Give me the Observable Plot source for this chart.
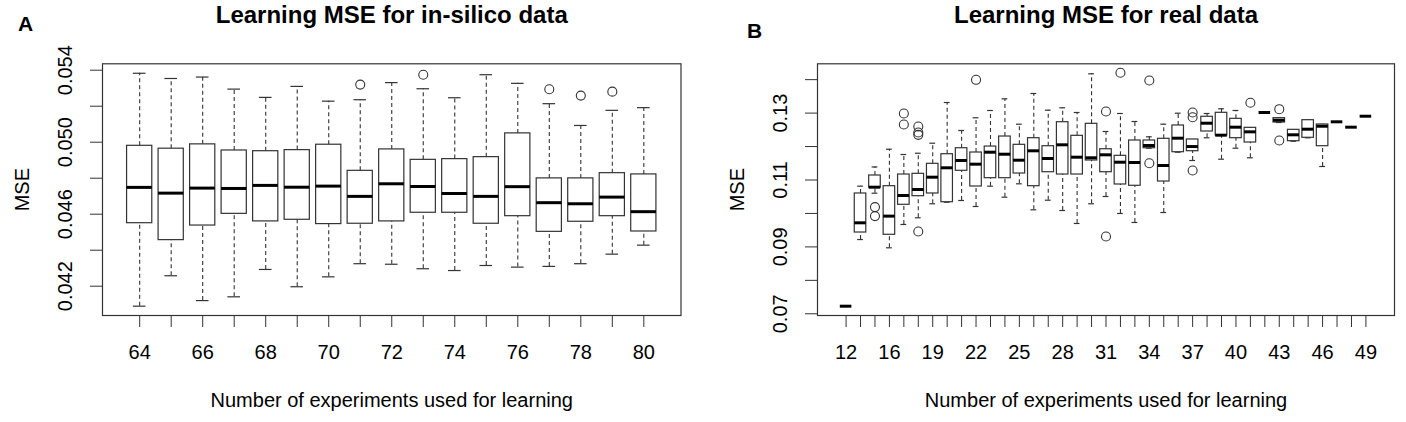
<!DOCTYPE html>
<html><head><meta charset="utf-8">
<script src="https://cdn.jsdelivr.net/npm/d3@7"></script>
<script src="https://cdn.jsdelivr.net/npm/@observablehq/plot@0.6"></script>
<style>
body{margin:0;background:#fff;}
#wrap{position:relative;width:1406px;height:422px;overflow:hidden;background:#fff;}
#a,#b{position:absolute;top:0;}
#a{left:0}
#b{left:703px}
</style></head><body><div id="wrap"><div id="a"></div><div id="b"></div></div>
<script>
// ---------- Panel A: in-silico data ----------
const catsA = [64,65,66,67,68,69,70,71,72,73,74,75,76,77,78,79,80];
const loA  = [.04089,.04258,.04120,.04141,.04293,.04197,.04252,.04325,.04322,.04297,.04287,.04315,.04306,.04310,.04325,.04378,.04428];
const q1A  = [.04550,.04456,.04537,.04602,.04560,.04569,.04545,.04547,.04560,.04608,.04608,.04547,.04589,.04502,.04558,.04589,.04504];
const medA = [.04749,.04717,.04745,.04743,.04760,.04750,.04756,.04699,.04769,.04754,.04715,.04699,.04753,.04664,.04658,.04695,.04614];
const q3A  = [.04980,.04964,.04988,.04954,.04950,.04956,.04986,.04841,.04960,.04902,.04906,.04917,.05049,.04799,.04799,.04828,.04821];
const hiA  = [.05383,.05354,.05362,.05295,.05249,.05310,.05228,.05236,.05331,.05297,.05247,.05375,.05327,.05214,.05093,.05177,.05192];
const outCatA = [71,73,77,78,79];
const outValA = [.05320,.05375,.05294,.05259,.05281];
const yTicksA = [.042,.044,.046,.048,.050,.052,.054];
const yLabelsA = [.042,.046,.050,.054];

// ---------- Panel B: real data ----------
const catsB = [12,14,15,16,17,18,19,20,21,22,23,24,25,26,27,28,29,30,31,32,33,34,35,36,37,38,39,40,41,42,43,44,45,46,47,48,49];
const loB  = [.07227,.0922,.10605,.08973,.0967,.0987,.10289,.10336,.10387,.10208,.10815,.10486,.10886,.10109,.10396,.10088,.0970,.10289,.10507,.09999,.0973,.1195,.10028,.11831,.11583,.12262,.11622,.1195,.11664,.13018,.12719,.1216,.12262,.11404,.1274,.12579,.12907];
const q1B  = [.07227,.0943,.1077,.09362,.10259,.10516,.10597,.10336,.11275,.10806,.11054,.11054,.11194,.10815,.11233,.11164,.11164,.11583,.11233,.10866,.10827,.1195,.10955,.11831,.11861,.1245,.1233,.1225,.12121,.13018,.12719,.1216,.12262,.1201,.1274,.12579,.12907];
const medB = [.07227,.0972,.10785,.0992,.10537,.10716,.11084,.11365,.11583,.11473,.11831,.11771,.11592,.11873,.11643,.12052,.11682,.11664,.11753,.11532,.11523,.12031,.11433,.1225,.1200,.12698,.1234,.12579,.1244,.13018,.12788,.12351,.12519,.12608,.1274,.12579,.12907];
const q3B  = [.07227,.10597,.11135,.10815,.11164,.11185,.11484,.11771,.1195,.11822,.1200,.1230,.12052,.1225,.1201,.12728,.12321,.1268,.1192,.11723,.12181,.12181,.12232,.1263,.12211,.1289,.13009,.12829,.1256,.13018,.12848,.1250,.12788,.1266,.1274,.12579,.12907];
const hiB  = [.07227,.10815,.1139,.1192,.11762,.1180,.1210,.13317,.1248,.1286,.13078,.13427,.12668,.13586,.13087,.13158,.13018,.14175,.1245,.12988,.12749,.12291,.12668,.12997,.12211,.12988,.13129,.13078,.1256,.13018,.12848,.1250,.12788,.1266,.1274,.12579,.12907];
const outCatB = [15,15,17,17,18,18,18,18,22,31,31,32,34,34,37,37,37,41,43,43];
const outValB = [.1019,.0992,.12988,.1266,.1260,.1242,.1235,.0946,.13995,.13048,.09311,.14205,.13975,.11502,.13018,.12877,.11284,.13308,.13117,.12181];
const yTicksB = [.07,.08,.09,.10,.11,.12,.13,.14];
const yLabelsB = [.07,.09,.11,.13];

const FONT = "'Liberation Sans', Arial, Helvetica, sans-serif";
const INK = "#333";

function panel(o) {
  const n = o.cats.length;
  const rows = o.cats.map((c, k) => ({i: k + 1, c, lo: o.lo[k], q1: o.q1[k], med: o.med[k], q3: o.q3[k], hi: o.hi[k]}));
  const outs = o.outCat.map((c, k) => ({i: o.cats.indexOf(c) + 1, v: o.outVal[k]}));
  const hw = 0.4, cw = 0.2;
  return Plot.plot({
    width: 703, height: 422,
    marginLeft: o.marginLeft, marginRight: o.marginRight, marginTop: 63.3, marginBottom: 107,
    x: {type: "linear", domain: [0.5 - 0.04 * n, n + 0.5 + 0.04 * n]},
    y: {type: "linear", domain: o.yDomain},
    style: {fontFamily: FONT, fontSize: "20px", color: "#000", background: "white", overflow: "visible"},
    marks: [
      Plot.frame({stroke: INK, strokeWidth: 1.2}),
      Plot.ruleX(rows, {x: "i", y1: "q3", y2: "hi", stroke: INK, strokeWidth: 1.1, strokeDasharray: "4,3"}),
      Plot.ruleX(rows, {x: "i", y1: "lo", y2: "q1", stroke: INK, strokeWidth: 1.1, strokeDasharray: "4,3"}),
      Plot.ruleY(rows, {y: "hi", x1: d => d.i - cw, x2: d => d.i + cw, stroke: INK, strokeWidth: 1.2}),
      Plot.ruleY(rows, {y: "lo", x1: d => d.i - cw, x2: d => d.i + cw, stroke: INK, strokeWidth: 1.2}),
      Plot.rect(rows, {x1: d => d.i - hw, x2: d => d.i + hw, y1: "q1", y2: "q3", fill: "white", stroke: INK, strokeWidth: 1.2}),
      Plot.ruleY(rows, {y: "med", x1: d => d.i - hw, x2: d => d.i + hw, stroke: "#000", strokeWidth: 3}),
      Plot.dot(outs, {x: "i", y: "v", r: 4.5, stroke: INK, strokeWidth: 1.1, fill: "none"}),
      Plot.axisX({ticks: rows.map(d => d.i), tickSize: 12, tickPadding: 17, stroke: INK, fill: "#000", fontSize: 20, label: null,
        tickFormat: i => (o.xLabelIdx.includes(i - 1) ? String(o.cats[i - 1]) : "")}),
      Plot.axisY({ticks: o.yTicks, tickSize: 12, stroke: INK, label: null, tickFormat: () => ""}),
      Plot.text(o.yLabels, {y: d => d, text: d => d3.format(o.yFmt)(d), frameAnchor: "left", dx: -37, rotate: -90,
        textAnchor: "middle", lineAnchor: "middle", fontSize: 20, fill: "#000"}),
      Plot.text(["MSE"], {text: d => d, frameAnchor: "left", dx: -80, rotate: -90, textAnchor: "middle", lineAnchor: "middle", fontSize: 20, fill: "#000"}),
      Plot.text(["Number of experiments used for learning"], {text: d => d, frameAnchor: "bottom", dy: 85, textAnchor: "middle", lineAnchor: "middle", fontSize: 20, fill: "#000"}),
      Plot.text([o.title], {text: d => d, frameAnchor: "top", dy: -48, textAnchor: "middle", lineAnchor: "middle", fontSize: 24, fontWeight: "bold", fill: "#000"}),
      Plot.text([o.letter], {text: d => d, frameAnchor: "top-left", dx: o.letterDx, dy: o.letterDy, textAnchor: "middle", lineAnchor: "middle", fontSize: 21, fontWeight: "bold", fill: "#000"})
    ]
  });
}

document.getElementById("a").append(panel({
  cats: catsA, lo: loA, q1: q1A, med: medA, q3: q3A, hi: hiA, outCat: outCatA, outVal: outValA,
  yDomain: [0.040372, 0.054356], yTicks: yTicksA, yLabels: yLabelsA, yFmt: ".3f",
  xLabelIdx: [0, 2, 4, 6, 8, 10, 12, 14, 16],
  marginLeft: 102, marginRight: 22.5,
  title: "Learning MSE for in-silico data", letter: "A", letterDx: -77, letterDy: -40
}));

document.getElementById("b").append(panel({
  cats: catsB, lo: loB, q1: q1B, med: medB, q3: q3B, hi: hiB, outCat: outCatB, outVal: outValB,
  yDomain: [0.06949, 0.14474], yTicks: yTicksB, yLabels: yLabelsB, yFmt: ".2f",
  xLabelIdx: [0, 3, 6, 9, 12, 15, 18, 21, 24, 27, 30, 33, 36],
  marginLeft: 114, marginRight: 12,
  title: "Learning MSE for real data", letter: "B", letterDx: -63, letterDy: -33
}));
</script>
</body></html>
